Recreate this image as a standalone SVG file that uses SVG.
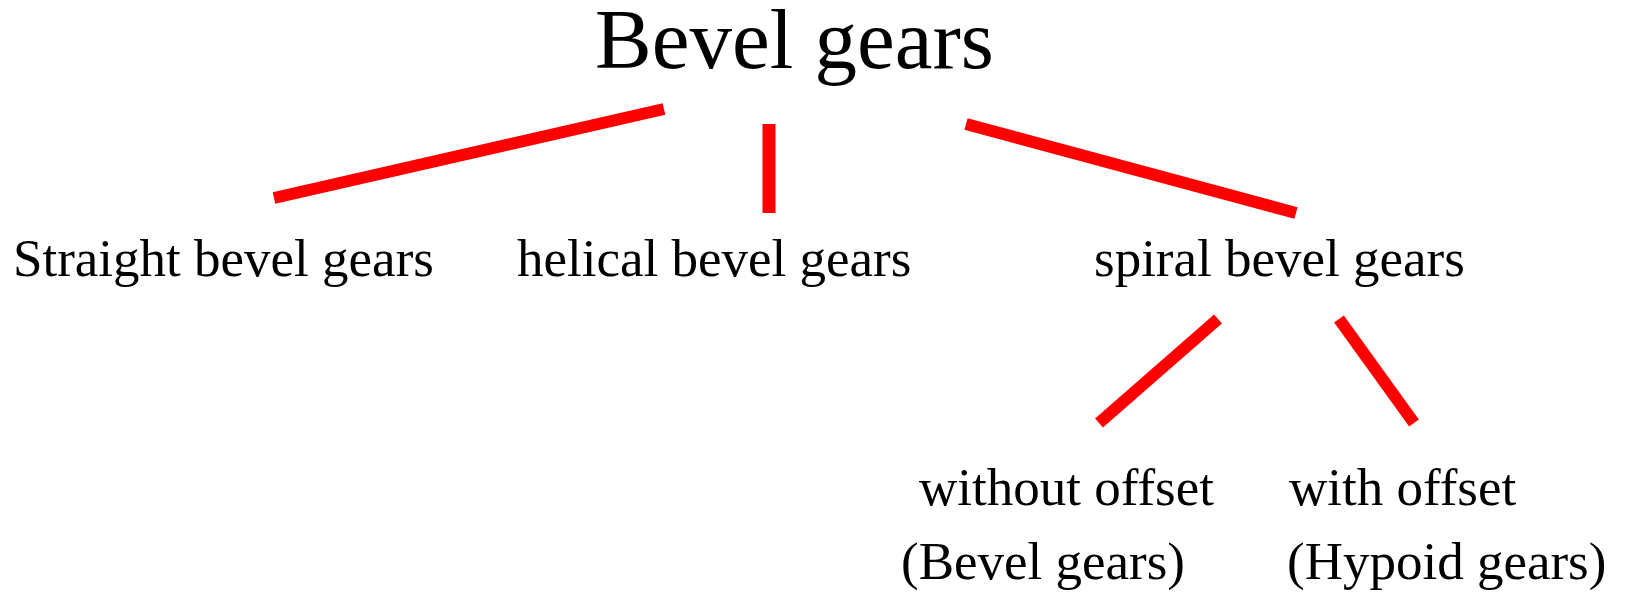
<svg xmlns="http://www.w3.org/2000/svg" width="1625" height="594" viewBox="0 0 1625 594">
  <style>
    .title { font-family: "Liberation Serif", "Times New Roman", serif; font-size: 85px; fill: #000; }
    .label { font-family: "Liberation Serif", "Times New Roman", serif; font-size: 53px; fill: #000; }
    .link { stroke: #ff0000; stroke-width: 12; fill: none; }
    .stem { stroke: #ff0000; stroke-width: 13; fill: none; }
  </style>
  <rect width="1625" height="594" fill="#ffffff"/>

  <g id="connectors">
    <line class="link" x1="274" y1="198" x2="664" y2="109"/>
    <line class="stem" x1="769" y1="124" x2="769" y2="213"/>
    <line class="link" x1="966" y1="124" x2="1296" y2="213"/>
    <line class="link" x1="1218" y1="319" x2="1099" y2="423"/>
    <line class="link" x1="1339" y1="319" x2="1414" y2="423"/>
  </g>

  <g id="bevel-gears">
    <text class="title" x="595" y="68">Bevel gears</text>
  </g>
  <g id="straight-bevel-gears">
    <text class="label" x="13" y="276">Straight bevel gears</text>
  </g>
  <g id="helical-bevel-gears">
    <text class="label" x="517" y="276">helical bevel gears</text>
  </g>
  <g id="spiral-bevel-gears">
    <text class="label" x="1094" y="276">spiral bevel gears</text>
  </g>
  <g id="without-offset">
    <text class="label" x="919" y="505">without offset</text>
    <text class="label" x="901" y="579">(Bevel gears)</text>
  </g>
  <g id="with-offset">
    <text class="label" x="1289" y="505">with offset</text>
    <text class="label" x="1287" y="579">(Hypoid gears)</text>
  </g>
</svg>
